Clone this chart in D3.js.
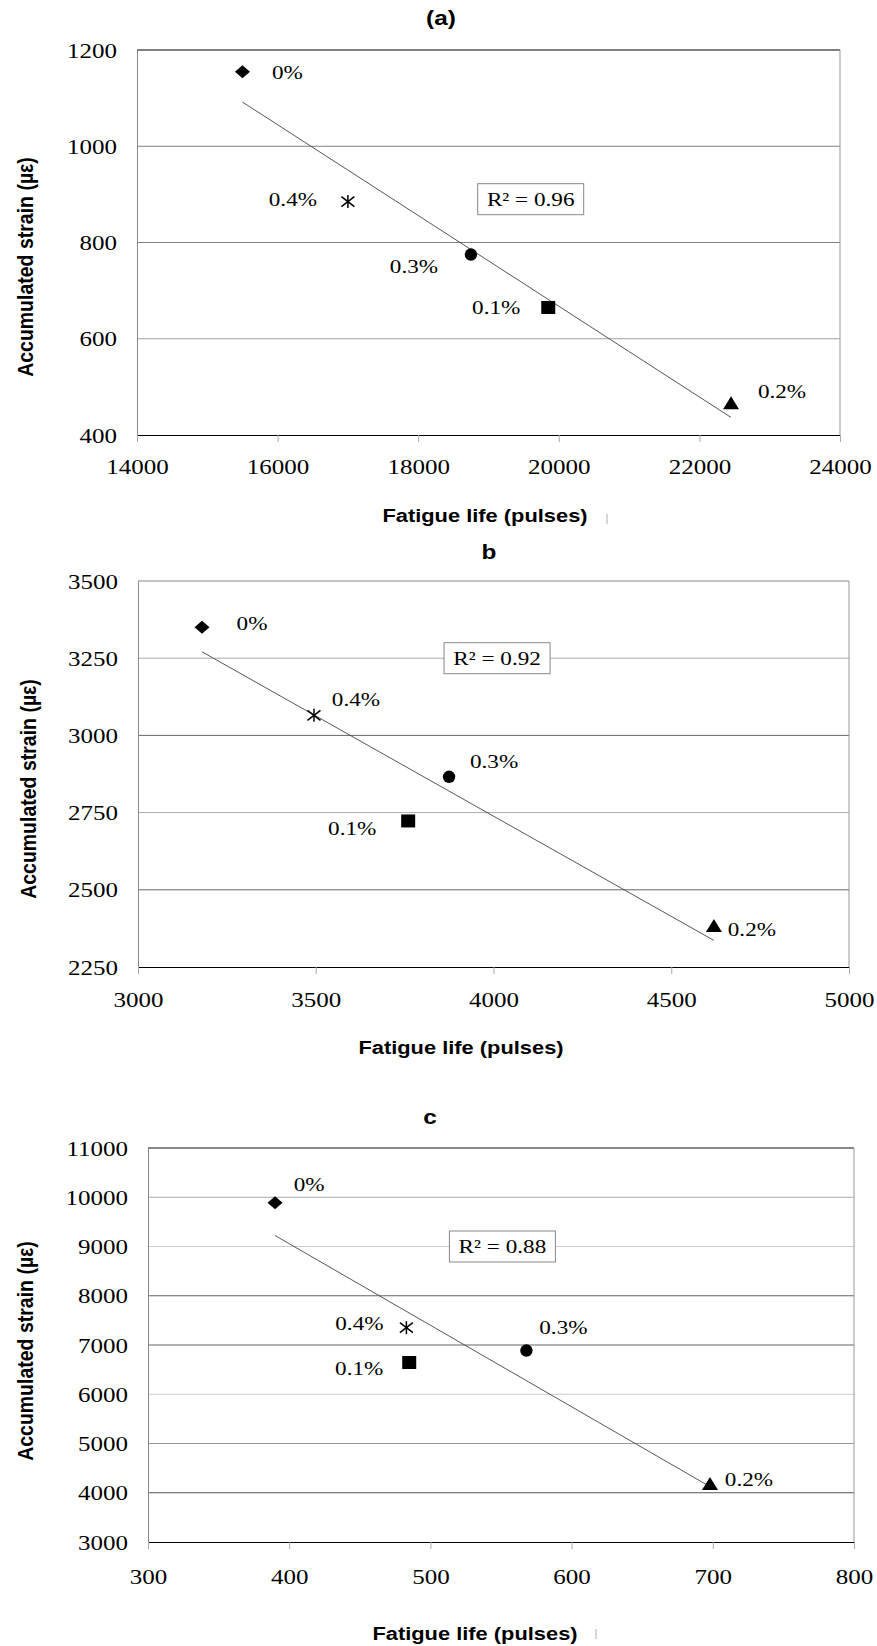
<!DOCTYPE html>
<html>
<head>
<meta charset="utf-8">
<script src="https://cdn.jsdelivr.net/npm/d3@7"></script>
<style>
  body { margin: 0; background: #fff; }
  svg { display: block; }
  .serif { font-family: "Liberation Serif", "Times New Roman", serif; }
  .sans { font-family: "Liberation Sans", Arial, sans-serif; font-weight: bold; }
</style>
</head>
<body>
<svg id="Figure"></svg>
<script>
// point order: 0%, 0.1%, 0.2%, 0.3%, 0.4%
let pointLabels = ["0%", "0.1%", "0.2%", "0.3%", "0.4%"]
let pointShapes = ["diamond", "square", "triangle", "circle", "star"]

let lifeA = [15500, 19850, 22450, 18750, 17000]
let strainA = [1155, 665, 466, 775, 885]
let lifeB = [3180, 3760, 4620, 3875, 3495]
let strainB = [3350, 2723, 2383, 2866, 3065]
let lifeC = [390, 485, 698, 568, 483]
let strainC = [9890, 6645, 4180, 6887, 7352]

let xTicksA = [14000, 16000, 18000, 20000, 22000, 24000]
let yTicksA = [400, 600, 800, 1000, 1200]
let xTicksB = [3000, 3500, 4000, 4500, 5000]
let yTicksB = [2250, 2500, 2750, 3000, 3250, 3500]
let xTicksC = [300, 400, 500, 600, 700, 800]
let yTicksC = [3000, 4000, 5000, 6000, 7000, 8000, 9000, 10000, 11000]

let titles = ["(a)", "b", "c"]
let r2Texts = ["R² = 0.96", "R² = 0.92", "R² = 0.88"]
let r2Anchors = [[19600, 890], [4010, 3250], [551, 9000]]
let xTitle = "Fatigue life (pulses)"
let yTitle = "Accumulated strain (µε)"

let svg = d3.select("#Figure").attr("width", 877).attr("height", 1646)
let stretch = 1.22

function stretchedText(g, x, y, txt, size, cls) {
    return g.append("text")
        .attr("class", cls)
        .attr("transform", `translate(${x},${y}) scale(${stretch},1)`)
        .attr("text-anchor", "middle")
        .attr("dy", "0.35em")
        .style("font-size", size + "px")
        .text(txt)
}

function markerPath(shape) {
    let p = d3.path()
    if (shape == "diamond") {
        p.moveTo(0, -6.5); p.lineTo(7.5, 0); p.lineTo(0, 6.5); p.lineTo(-7.5, 0); p.closePath()
    } else if (shape == "square") {
        p.rect(-7, -6.5, 14, 13)
    } else if (shape == "triangle") {
        p.moveTo(0, -7); p.lineTo(8, 6); p.lineTo(-8, 6); p.closePath()
    } else if (shape == "circle") {
        p.arc(0, 0, 6.2, 0, 2 * Math.PI)
    }
    return p.toString()
}

function linearFit(xs, ys) {
    let mx = d3.mean(xs), my = d3.mean(ys)
    let sxy = d3.sum(xs, (x, i) => (x - mx) * (ys[i] - my))
    let sxx = d3.sum(xs, x => (x - mx) * (x - mx))
    let slope = sxy / sxx
    return x => my + slope * (x - mx)
}

function getConfigs() {
    return [
        { left: 137, right: 840, top: 50, bottom: 435, xTicks: xTicksA, yTicks: yTicksA,
          life: lifeA, strain: strainA, titleX: 441, titleY: 18, xTitleX: 485, xTitleY: 515,
          yTitleX: 25, yTitleY: 267, topColor: "#000", tickGap: 32, stray: [607, 514],
          gridColors: ["#000", "#a0a0a0", "#808080", "#808080", "#000"],
          offsets: [[45, 1], [-52, 0], [51, -12], [-57, 12], [-55, -2]] },
        { left: 138, right: 849, top: 581, bottom: 967, xTicks: xTicksB, yTicks: yTicksB,
          life: lifeB, strain: strainB, titleX: 489, titleY: 552, xTitleX: 461, xTitleY: 1047,
          yTitleX: 28, yTitleY: 789, topColor: "#888", tickGap: 33, stray: null,
          gridColors: ["#000", "#666", "#aaa", "#666", "#aaa", "#888"],
          offsets: [[50, -4], [-56, 7], [38, 3], [45, -15], [42, -16]] },
        { left: 148, right: 854, top: 1148, bottom: 1542, xTicks: xTicksC, yTicks: yTicksC,
          life: lifeC, strain: strainC, titleX: 430, titleY: 1117, xTitleX: 475, xTitleY: 1633,
          yTitleX: 25, yTitleY: 1351, topColor: "#111", tickGap: 35, stray: [596, 1629],
          gridColors: ["#000", "#555", "#999", "#ccc", "#666", "#666", "#ccc", "#aaa", "#111"],
          offsets: [[34, -18], [-50, 6], [39, -5], [37, -23], [-47, -4]] }
    ]
}

function drawPanel(cfg, idx) {
    let g = svg.append("g")
    let xScale = d3.scaleLinear()
        .domain(d3.extent(cfg.xTicks))
        .range([cfg.left, cfg.right])
    let yScale = d3.scaleLinear()
        .domain(d3.extent(cfg.yTicks))
        .range([cfg.bottom, cfg.top])

    // gridlines (the last one is the top of the frame)
    g.selectAll(".grid").data(cfg.yTicks.slice(1)).enter().append("line")
        .attr("x1", cfg.left).attr("x2", cfg.right)
        .attr("y1", d => yScale(d)).attr("y2", d => yScale(d))
        .attr("stroke", (d, i) => i == cfg.yTicks.length - 2 ? cfg.topColor : cfg.gridColors[i + 1])
        .attr("stroke-width", 1)

    // right frame
    g.append("line")
        .attr("x1", cfg.right).attr("x2", cfg.right)
        .attr("y1", cfg.top).attr("y2", cfg.bottom)
        .attr("stroke", "#999")

    // left axis
    let axisY = d3.axisLeft(yScale).tickValues(cfg.yTicks).tickSize(0).tickFormat(d3.format("d"))
    let ya = g.append("g").attr("transform", `translate(${cfg.left},0)`).call(axisY)
    ya.attr("font-family", null).attr("font-size", null)
    ya.select(".domain").attr("stroke", "#888")
    ya.selectAll(".tick text")
        .attr("class", "serif")
        .attr("x", null).attr("dy", "0.35em")
        .attr("transform", `translate(-20,0) scale(${stretch},1)`)
        .style("font-size", "20.5px").attr("fill", "#000")

    // bottom axis
    let axisX = d3.axisBottom(xScale).tickValues(cfg.xTicks).tickSize(7).tickFormat(d3.format("d"))
    let xa = g.append("g").attr("transform", `translate(0,${cfg.bottom})`).call(axisX)
    xa.attr("font-family", null).attr("font-size", null)
    xa.select(".domain").attr("stroke", "#000").attr("d", `M${cfg.left},0.5H${cfg.right}`)
    xa.selectAll(".tick line").attr("stroke", "#aaa")
    xa.selectAll(".tick text")
        .attr("class", "serif")
        .attr("y", null).attr("dy", "0.35em")
        .attr("transform", `translate(0,${cfg.tickGap}) scale(${stretch},1)`)
        .style("font-size", "20.5px").attr("fill", "#000")

    // trend line
    let fit = linearFit(cfg.life, cfg.strain)
    let [x0, x1] = d3.extent(cfg.life)
    g.append("line")
        .attr("x1", xScale(x0)).attr("y1", yScale(fit(x0)))
        .attr("x2", xScale(x1)).attr("y2", yScale(fit(x1)))
        .attr("stroke", "#444").attr("stroke-width", 0.9)

    // points
    cfg.life.forEach((v, i) => {
        let px = xScale(v), py = yScale(cfg.strain[i])
        if (pointShapes[i] == "star") {
            let s = g.append("g").attr("transform", `translate(${px},${py})`)
                .attr("stroke", "#000").attr("stroke-width", 1.5)
            s.append("line").attr("x1", -6.5).attr("y1", -5).attr("x2", 6.5).attr("y2", 5)
            s.append("line").attr("x1", -6.5).attr("y1", 5).attr("x2", 6.5).attr("y2", -5)
            s.append("line").attr("x1", 0).attr("y1", -6.5).attr("x2", 0).attr("y2", 6.5)
        } else {
            g.append("path")
                .attr("d", markerPath(pointShapes[i]))
                .attr("transform", `translate(${px},${py})`)
                .attr("fill", "#000")
        }
        let off = cfg.offsets[i]
        stretchedText(g, px + off[0], py + off[1], pointLabels[i], 19, "serif")
    })

    // R² box
    let bx = xScale(r2Anchors[idx][0]), by = yScale(r2Anchors[idx][1])
    g.append("rect")
        .attr("x", bx - 53).attr("y", by - 15.5)
        .attr("width", 106).attr("height", 31)
        .attr("fill", "#fff").attr("stroke", "#888")
    stretchedText(g, bx, by, r2Texts[idx], 19, "serif")

    // titles
    stretchedText(g, cfg.titleX, cfg.titleY, titles[idx], 20, "sans")
    g.append("text")
        .attr("class", "sans")
        .attr("transform", `translate(${cfg.xTitleX},${cfg.xTitleY}) scale(1.15,1)`)
        .attr("text-anchor", "middle").attr("dy", "0.35em")
        .style("font-size", "19px")
        .text(xTitle)
    g.append("text")
        .attr("class", "sans")
        .attr("transform", `translate(${cfg.yTitleX},${cfg.yTitleY}) rotate(-90) scale(1,1.15)`)
        .attr("text-anchor", "middle").attr("dy", "0.35em")
        .style("font-size", "19.5px")
        .text(yTitle)

    if (cfg.stray) {
        g.append("line")
            .attr("x1", cfg.stray[0]).attr("x2", cfg.stray[0])
            .attr("y1", cfg.stray[1]).attr("y2", cfg.stray[1] + 10)
            .attr("stroke", "#bbb").attr("stroke-width", 1.2)
    }
}

getConfigs().forEach(drawPanel)
</script>
</body>
</html>
